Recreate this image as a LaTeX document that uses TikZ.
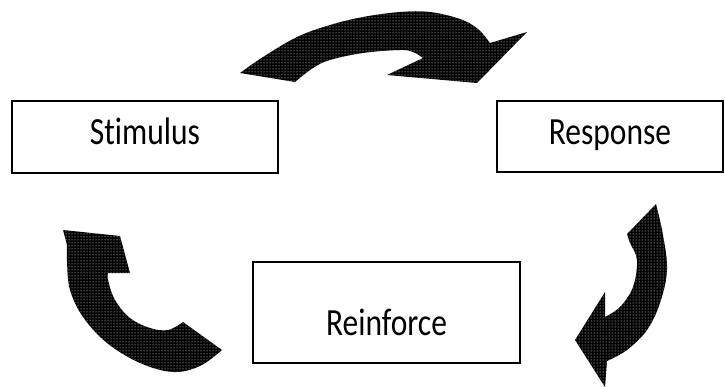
\documentclass[tikz,border=0pt]{standalone}
\usepackage{fontspec}
\setmainfont{Carlito}[Ligatures=NoCommon]
\usetikzlibrary{patterns}
\newcommand{\tallword}[1]{\scalebox{1}[1.22]{#1}}
\begin{document}
\begin{tikzpicture}[x=1pt,y=-1pt,
  boxnode/.style={draw=black,line width=1.2pt,fill=white,inner sep=0pt,
    font=\fontsize{31.5}{36}\selectfont},
  speckle/.style={preaction={fill=black},pattern=dots,pattern color=white}]
\useasboundingbox (0,0) rectangle (725,387);
% boxes
\node[boxnode,minimum width=266pt,minimum height=72pt,text height=25pt,text depth=9pt] (stim) at (145,137) {\tallword{Stimulus}};
\node[boxnode,minimum width=226pt,minimum height=71pt,text height=25pt,text depth=8pt] (resp) at (610,136.5) {\tallword{Response}};
\node[boxnode,minimum width=267pt,minimum height=101pt,text height=45pt,text depth=0pt] (reinf) at (386.5,312.5) {\tallword{Reinforce}};
% top arrow
\path[speckle] plot[smooth,tension=0.6] coordinates {(240,73)(263,57)(297,37)(330,25)(363,17)(400,12)(430,12)(460,19)(478,29)(490,43)}
  -- (527,32) -- (477,83) -- (387,75) -- (423,58)
  -- plot[smooth,tension=0.6] coordinates {(423,58)(413,52)(400,50)(363,53)(330,60)(313,68)(295,82)} -- cycle;
% right arrow
\path[speckle] plot[smooth,tension=0.6] coordinates {(656,204)(663,235)(667,270)(660,303)(647,330)(627,350)(607,361)}
  -- (605,387) -- (575,340) -- (605,292) -- (605,317)
  -- plot[smooth,tension=0.6] coordinates {(605,317)(620,307)(633,287)(637,260)(630,243)(627,234)} -- cycle;
% left arrow
\path[speckle] plot[smooth,tension=0.6] coordinates {(67,245)(67,262)(70,290)(83,317)(107,343)(140,363)(173,372)(200,366)(222,350)}
  -- (183,322)
  -- plot[smooth,tension=0.6] coordinates {(183,322)(168,330)(150,328)(130,318)(115,300)(108,280)(108,273)}
  -- (130,273) -- (120,236) -- (63,230) -- cycle;
\end{tikzpicture}
\end{document}
